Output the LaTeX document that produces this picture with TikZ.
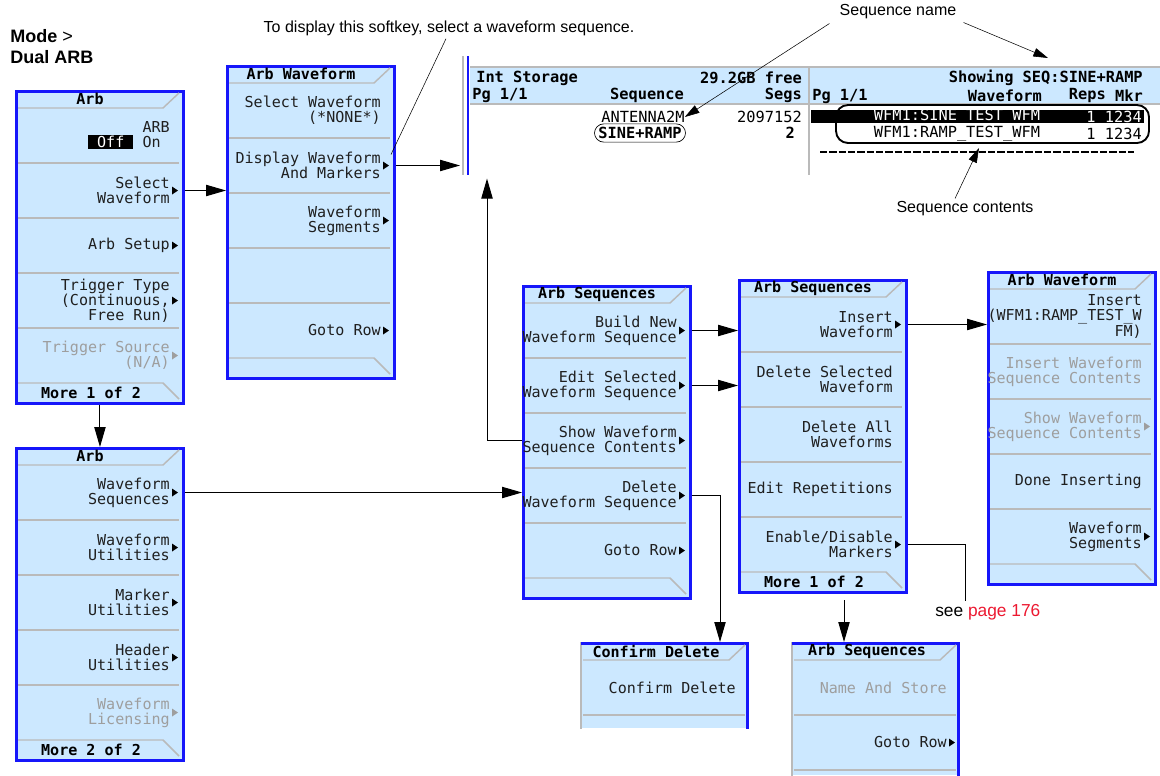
\documentclass[tikz,border=0pt]{standalone}
\usepackage{fontspec}
\setmainfont{Liberation Sans}
\newfontfamily\lcd{DejaVu Sans Mono}
\usepackage{xcolor}
\usepackage{tikz}
\usetikzlibrary{positioning,arrows.meta,calc}

\definecolor{keyblue}{RGB}{204,232,255}
\definecolor{edgeblue}{RGB}{22,22,250}
\definecolor{sepgray}{RGB}{186,186,186}
\definecolor{dimgray}{RGB}{158,158,158}
\definecolor{linkred}{RGB}{236,24,48}

\begin{document}
\begin{tikzpicture}[x=0.75pt, y=-0.75pt,
  font=\lcd\fontsize{11.3}{11.2}\selectfont,
  panel/.style={rectangle, anchor=north west, inner sep=0pt, fill=keyblue,
    draw=edgeblue, line width=2.2pt, minimum width=125.25pt, minimum height=234pt},
  stub/.style={rectangle, anchor=north west, inner sep=0pt, fill=keyblue,
    minimum width=125.25pt},
  key/.style={anchor=east, align=right, inner sep=0pt, text=black!88},
  dimkey/.style={key, text=dimgray},
  head/.style={inner sep=0pt, font=\lcd\bfseries\fontsize{11.3}{11.2}\selectfont},
  scrtxt/.style={inner sep=0pt, font=\lcd\fontsize{11.5}{12}\selectfont},
  scrhead/.style={inner sep=0pt, font=\lcd\bfseries\fontsize{11.5}{12}\selectfont},
  sep/.style={sepgray, line width=1.1pt},
  conn/.style={-{Triangle[length=15pt, width=8.5pt]}, line width=0.75pt},
  note/.style={inner sep=0pt, font=\rmfamily\fontsize{12}{14}\selectfont},
  pointer/.style={-{Triangle[length=11pt, width=6.5pt]}, line width=0.4pt}]
\useasboundingbox (0,0) rectangle (1160,775);

% softkey panels
\foreach \p/\x/\y/\m in {A/15/90/More 1 of 2, B/226/65/, C/15/447/More 2 of 2,
                         D/522/285/, E/738/279/More 1 of 2, F/987/271/} {
  \node[panel] (p\p) at (\x,\y) {};
  \foreach \i in {1,...,4}
    \draw[sep] (\x+3,\y+18+55*\i) -- (\x+164,\y+18+55*\i);
  \draw[sep] (\x+3,\y+18) -- (\x+148,\y+18) -- (\x+164,\y+3);
  \draw[sep] (\x+3,\y+293) -- (\x+148,\y+293) -- (\x+164,\y+309);
  \node[head] (m\p) at (\x+76,\y+302.5) {\m};
}
% cut-off panels
\node[stub, minimum height=64.5pt] (pG) at (581,642) {};
\node[stub, minimum height=99.75pt] (pH) at (792,642) {};
\foreach \p in {G,H} {
  \draw[sep] (p\p.north west) -- (p\p.south west);
  \draw[edgeblue, line width=2.2pt] ($(p\p.south east)+(-1.5,0)$)
    -- ($(p\p.north east)+(-1.5,1.5)$) -- ($(p\p.north west)+(0,1.5)$);
  \draw[sep] ($(p\p.north west)+(2,18)$) -- ++(146,0) -- ++(16,-15);
  \draw[sep] ($(p\p.north west)+(2,73)$) -- ++(162,0);
}
\draw[sep] ($(pH.north west)+(2,128)$) -- ++(162,0);

% titles
\node[head] (tA) at (90,99) {Arb};
\node[head] (tB) at (301,74) {Arb Waveform};
\node[head] (tC) at (90,456) {Arb};
\node[head] (tD) at (597,294) {Arb Sequences};
\node[head] (tE) at (813,288) {Arb Sequences};
\node[head] (tF) at (1062,280) {Arb Waveform};
\node[head] (tG) at (656,651) {Confirm Delete};
\node[head] (tH) at (867,651) {Arb Sequences};

% keys
\node[key] (A1) at (170,135.5) {ARB\\{\setlength{\fboxsep}{1pt}\colorbox{black}{\makebox[32pt]{\textcolor{white}{Off}}}} On\phantom{B}};
\node[key] (A2) at (170,190.5) {Select\\Waveform};
\node[key] (A3) at (170,245.5) {Arb Setup};
\node[key] (A4) at (170,300.5) {Trigger Type\\(Continuous,\\Free Run)};
\node[dimkey] (A5) at (170,355.5) {Trigger Source\\(N/A)};
\node[key] (B1) at (381,110.5) {Select Waveform\\(*NONE*)};
\node[key] (B2) at (381,165.5) {Display Waveform\\And Markers};
\node[key] (B3) at (381,220.5) {Waveform\\Segments};
\node[key] (B5) at (381,330.5) {Goto Row};
\node[key] (C1) at (170,492.5) {Waveform\\Sequences};
\node[key] (C2) at (170,547.5) {Waveform\\Utilities};
\node[key] (C3) at (170,602.5) {Marker\\Utilities};
\node[key] (C4) at (170,657.5) {Header\\Utilities};
\node[dimkey] (C5) at (170,712.5) {Waveform\\Licensing};
\node[key] (D1) at (677,330.5) {Build New\\Waveform Sequence};
\node[key] (D2) at (677,385.5) {Edit Selected\\Waveform Sequence};
\node[key] (D3) at (677,440.5) {Show Waveform\\Sequence Contents};
\node[key] (D4) at (677,495.5) {Delete\\Waveform Sequence};
\node[key] (D5) at (677,550.5) {Goto Row};
\node[key] (E1) at (893,324.5) {Insert\\Waveform};
\node[key] (E2) at (893,379.5) {Delete Selected\\Waveform};
\node[key] (E3) at (893,434.5) {Delete All\\Waveforms};
\node[key] (E4) at (893,489.5) {Edit Repetitions};
\node[key] (E5) at (893,544.5) {Enable/Disable\\Markers};
\node[key] (F1) at (1142,316.5) {Insert\\(WFM1:RAMP\_TEST\_W\\FM)};
\node[dimkey] (F2) at (1142,371.5) {Insert Waveform\\Sequence Contents};
\node[dimkey] (F3) at (1142,426.5) {Show Waveform\\Sequence Contents};
\node[key] (F4) at (1142,481.5) {Done Inserting};
\node[key] (F5) at (1142,536.5) {Waveform\\Segments};
\node[key] (G1) at (736,687.5) {Confirm Delete};
\node[dimkey] (H1) at (947,687.5) {Name And Store};
\node[key] (H2) at (947,742.5) {Goto Row};
% submenu markers
\foreach \k in {A2,A3,A4,B2,B3,B5,C1,C2,C3,C4,D1,D2,D3,D4,D5,E1,E5,F5,H2}
  \fill ($(\k.east)+(2,-4)$) -- ++(0,8) -- ++(6,-4) -- cycle;
\foreach \k in {A5,C5,F3}
  \fill[dimgray] ($(\k.east)+(2,-4)$) -- ++(0,8) -- ++(6,-4) -- cycle;

% instrument display
\node[rectangle, anchor=north west, inner sep=0pt, minimum width=525pt,
  minimum height=90pt] (scr) at (460,55) {};
\fill[keyblue] (470,67) rectangle (1160,104);
\draw[sepgray, line width=0.8pt] (470,67) -- (1160,67) (470,104) -- (1160,104);
\draw[sep] (809,67) -- (809,175);
\draw[sepgray, line width=0.8pt] (463,56) -- (463,175);
\draw[edgeblue, line width=2.2pt] (468,56) -- (468,175);
\node[scrhead, anchor=west] (istor) at (476,78) {Int Storage};
\node[scrhead, anchor=west] (pgl) at (472,95) {Pg 1/1};
\node[scrhead] (seqh) at (647,95) {Sequence};
\node[scrhead, anchor=east] (gbfree) at (802,78) {29.2GB free};
\node[scrhead, anchor=east] (segs) at (802,95) {Segs};
\node[scrtxt] (ant) at (643,117) {ANTENNA2M};
\node[scrhead, draw, line width=0.5pt, rounded corners=7pt, inner xsep=3pt,
  inner ysep=2.5pt] (sine) at (640,133) {SINE+RAMP};
\node[scrtxt, anchor=east] (segn1) at (802,117) {2097152};
\node[scrhead, anchor=east] (segn2) at (795,133) {2};
\node[scrhead, anchor=east] (showing) at (1143,78) {Showing SEQ:SINE+RAMP};
\node[scrhead, anchor=west] (pgr) at (812,96) {Pg 1/1};
\node[scrhead, anchor=east] (wfh) at (1042,96) {Waveform};
\node[scrhead, anchor=east] (repsh) at (1106,96) {Reps};
\node[scrhead, anchor=east] (mkrh) at (1143,96) {Mkr};
\fill[black] (811,110) rectangle (1144,123);
\node[scrtxt, text=white] (wfm1) at (957,116.5) {WFM1:SINE\_TEST\_WFM};
\node[scrtxt, text=white, anchor=east] (rep1) at (1142,116.5) {1 1234};
\node[scrtxt] (wfm2) at (957,134) {WFM1:RAMP\_TEST\_WFM};
\node[scrtxt, anchor=east] (rep2) at (1142,134) {1 1234};
\draw[line width=1.4pt, rounded corners=9pt] (836,105) rectangle (1149,143);
\draw[line width=1pt, dash pattern=on 5.5pt off 1.5pt] (820,152) -- (1134,152);

% notes
\node[anchor=base west, inner sep=0pt, font=\rmfamily\bfseries\fontsize{13.5}{16}\selectfont]
  (mode) at (10,42) {Mode {\mdseries >}};
\node[anchor=base west, inner sep=0pt, font=\rmfamily\bfseries\fontsize{13.5}{16}\selectfont]
  (dual) at (10,63) {Dual ARB};
\node[note] (hint) at (449,28) {To display this softkey, select a waveform sequence.};
\node[note] (seqname) at (898,12) {Sequence name};
\node[note] (seqcont) at (965,209) {Sequence contents};
\node[note, anchor=west, font=\rmfamily\fontsize{13}{15}\selectfont]
  (seepg) at (935,612) {see \textcolor{linkred}{page 176}};
\coordinate (showtip) at (1048,58);
\coordinate (listtip) at (979,148);
\coordinate (seeend) at (965,601);
\coordinate (moreE) at (844,600);
\draw[pointer] ($(seqname.south west)+(-10,4)$) -- (ant.east);
\draw[pointer] ($(seqname.south east)+(7,3)$) -- (showtip);
\draw[pointer] ($(seqcont.north)+(-10,-3)$) -- (listtip);
\draw[line width=0.4pt] ($(hint.south)+(-3,3)$) -- ($(B2.east)+(10,-11)$);

% menu links
\draw[conn] (A2 -| pA.east) -- (A2 -| pB.west);
\draw[conn] (B2 -| pB.east) -- (B2 -| scr.west);
\draw[conn] (pA.south) -- (pC.north);
\draw[conn] (C1 -| pC.east) -- (C1 -| pD.west);
\draw[conn] (D3 -| pD.west) -| ($(scr.south west)+(27,3)$);
\draw[conn] (D1 -| pD.east) -- (D1 -| pE.west);
\draw[conn] (D2 -| pD.east) -- (D2 -| pE.west);
\draw[conn] (D4 -| pD.east) -| ($(pG.north west)+(139,0)$);
\draw[conn] (E1 -| pE.east) -- (E1 -| pF.west);
\draw[line width=0.75pt] (E5 -| pE.east) -| (seeend);
\draw[conn] (moreE) -- (moreE |- pH.north);
\end{tikzpicture}
\end{document}
